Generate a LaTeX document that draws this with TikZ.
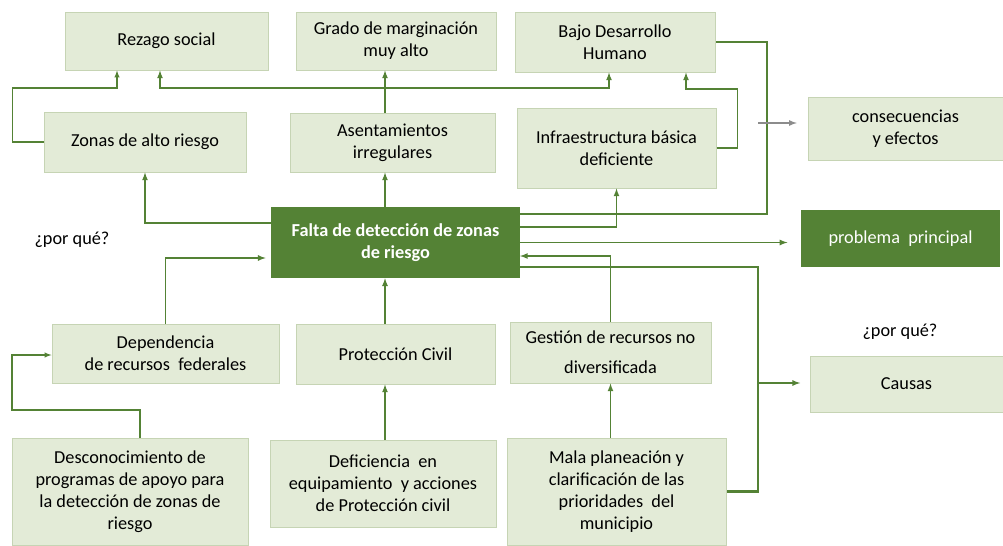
\documentclass[tikz,border=0pt]{standalone}
\usepackage{fontspec}
\setmainfont{Carlito}
\usepackage{xcolor}
\definecolor{CAJAcolor}{HTML}{E3EBD7}
\definecolor{BORDEcolor}{HTML}{C6D4B4}
\definecolor{VERDEcolor}{HTML}{548235}
\definecolor{GRIScolor}{HTML}{8C8C8C}
\usepackage{tikz}

\tikzset{
    tam/.style 2 args={minimum width=#1*0.75pt, minimum height=#2*0.75pt},
    caja/.style={draw=BORDEcolor, fill=CAJAcolor, line width=0.75pt, align=center, inner sep=0pt,
        font=\fontsize{13.7}{16.5}\selectfont},
    central/.style={fill=VERDEcolor, text=white, align=center, inner sep=0pt,
        font=\fontsize{13.7}{16.5}\selectfont\bfseries},
    texto/.style={font=\fontsize{13.7}{16.5}\selectfont},
    flecha/.style={-latex, VERDEcolor, line width=1pt},
    grueso/.style={VERDEcolor, line width=2pt},
    gris/.style={-latex, GRIScolor, line width=1pt},
}

\begin{document}
\begin{tikzpicture}[x=0.75pt, y=-0.75pt]
    \useasboundingbox (0, 0) rectangle (1003, 546);

    % efectos
    \node [caja, tam={203}{58}] (rezago) at (166.5, 41) {Rezago social};
    \node [caja, tam={200}{58}] (grado) at (396, 41) {Grado de marginación\\muy alto};
    \node [caja, tam={200}{60}] (bajo) at (615, 42) {Bajo Desarrollo\\Humano};
    \node [caja, tam={202}{60}] (zonas) at (145, 142) {Zonas de alto riesgo};
    \node [caja, tam={205}{59}] (asent) at (392.5, 142.5) {Asentamientos\\irregulares};
    \node [caja, tam={199}{80}] (infra) at (616.5, 148) {Infraestructura básica\\deficiente};

    % problema
    \node [central, tam={249}{71}] (falta) at (395.5, 242.5) {Falta de detección de zonas\\de riesgo};

    % causas
    \node [caja, tam={227}{59}] (depen) at (165.5, 353.5) {Dependencia\\de recursos\ \ federales};
    \node [caja, tam={199}{60}] (proteccion) at (395.5, 354) {Protección Civil};
    \node [caja, tam={201}{61}] (gestion) at (610.5, 352.5) {Gestión de recursos no\\[6pt]diversificada};
    \node [caja, tam={236}{107}] (descon) at (130, 491.5) {Desconocimiento de\\programas de apoyo para\\la detección de zonas de\\riesgo};
    \node [caja, tam={226}{87}] (defi) at (383, 483.5) {Deficiencia\ \ en\\equipamiento\ \ y acciones\\de Protección civil};
    \node [caja, tam={219}{107}] (mala) at (616.5, 491.5) {Mala planeación y\\clarificación de las\\prioridades\ \ del\\municipio};

    % leyenda
    \node [caja, tam={195}{63}] (conse) at (905.5, 128.5) {consecuencias\\y efectos};
    \node [central, tam={199}{57}, font=\fontsize{13.7}{16.5}\selectfont] (problema) at (900.5, 238.5) {problema\ \ principal};
    \node [texto] (porque1) at (72, 240) {¿por qué?};
    \node [texto] (porque2) at (900, 332) {¿por qué?};
    \node [caja, tam={193}{56}] (causas) at (906.5, 384) {Causas};

    \coordinate (eje) at (385, 88);
    \coordinate (k1) at (117, 88);
    \coordinate (k2) at (160, 88);
    \coordinate (k3) at (609, 88);
    \coordinate (k4) at (686, 89);
    \coordinate (d1) at (767, 214);
    \coordinate (d2) at (145, 223);
    \coordinate (d3) at (617, 227);
    \coordinate (d4) at (520, 256);
    \coordinate (d5) at (758, 267);
    \coordinate (d6) at (758, 383);
    \coordinate (d7) at (758, 123);
    \coordinate (d8) at (271, 258);
    \coordinate (d9) at (140, 410);
    \coordinate (d10) at (12, 355);

    % hacia arriba
    \draw [flecha, line width=0.8pt] (zonas.west) -- ++(-31, 0) |- (k1) -- (k1 |- rezago.south);
    \draw [flecha] (asent.north -| eje) -- (eje |- grado.south);
    \draw [flecha] (eje) -| (k2 |- rezago.south);
    \draw [flecha] (eje) -| (k3 |- bajo.south);
    \draw [flecha] (infra.east) -- ++(21, 0) |- (k4) -- (k4 |- bajo.south);
    \draw [grueso] (falta.east |- d1) -- (d1) |- (bajo.east);
    \draw [flecha] (falta.north -| eje) -- (asent.south -| eje);
    \draw [flecha] (falta.west |- d2) -| (zonas.south);
    \draw [flecha] (falta.east |- d3) -| (infra.south);

    % hacia la derecha
    \draw [flecha, shorten >=10pt] (falta.east) -- (falta.east -| problema.west);
    \draw [gris, shorten >=8pt] (d7) -- (d7 -| conse.west);
    \draw [flecha, shorten >=7pt] (d6) -- (d6 -| causas.west);

    % causas
    \draw [flecha] (gestion.north) |- (d4);
    \draw [grueso] (falta.east |- d5) -- (d5) |- (mala.east);
    \draw [flecha, shorten >=4pt] (depen.north) |- (d8);
    \draw [flecha, line width=0.8pt] (descon.north -| d9) -- (d9) -| (d10) -- (d10 -| depen.west);
    \draw [flecha] (proteccion.north -| eje) -- (falta.south -| eje);
    \draw [flecha] (defi.north -| eje) -- (proteccion.south -| eje);
    \draw [flecha] (mala.north -| gestion.south) -- (gestion.south);

\end{tikzpicture}
\end{document}
